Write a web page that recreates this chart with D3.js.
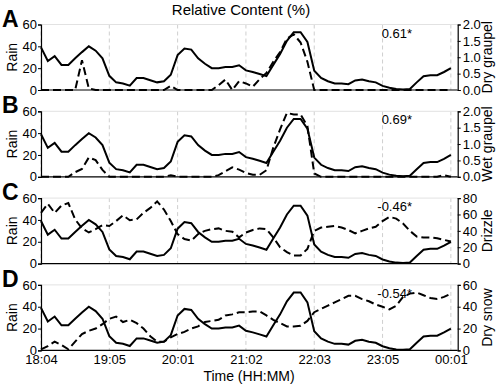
<!DOCTYPE html>
<html>
<head>
<meta charset="utf-8">
<script src="https://cdn.jsdelivr.net/npm/d3@7/dist/d3.min.js"></script>
<style>
  body { margin: 0; background: #fff; }
  svg text { font-family: "Liberation Sans", Arial, sans-serif; fill: #000; }
</style>
</head>
<body>
<div id="chart"></div>
<script>
// sample index 0..60, labelled every 10 samples
var tickIdx = [0, 10, 20, 30, 40, 50, 60];
var tickLabels = ["18:04", "19:05", "20:01", "21:02", "22:03", "23:05", "00:01"];

var rain = [39, 26.5, 31, 23, 23, 29, 34.7, 40, 36, 29,
    13, 7, 6, 4, 11, 11, 9, 7, 8, 14,
    32, 38, 37, 29, 24, 20, 20, 21, 21, 22.7,
    18, 16.5, 14.7, 12.7, 23, 33, 45, 53, 53, 44,
    17.6, 11, 8, 6, 6, 5.3, 8.8, 9.7, 8, 7,
    3.8, 2, 0.9, 0.5, 1, 7, 12.7, 13.5, 13.5, 16.5,
    20];

var dryGraupel = [0, 0, 0, 0, 0, 0, 0.91, 0.05, 0, 0,
    0, 0, 0, 0, 0, 0, 0, 0, 0, 0.13,
    0, 0, 0, 0, 0, 0, 0.15, 0.32, 0, 0.27,
    0.2, 0.1, 0.33, 0.52, 0.86, 1.16, 1.57, 1.7, 1.45, 0.86,
    0, 0, 0, 0, 0, 0, 0, 0, 0, 0,
    0, 0, 0, 0, 0, 0, 0, 0, 0, 0,
    0];

var wetGraupel = [0, 0, 0, 0, 0, 0.14, 0.24, 0.59, 0.51, 0.21,
    0, 0, 0, 0, 0, 0, 0, 0, 0, 0.05,
    0, 0, 0, 0, 0, 0, 0.05, 0.17, 0.29, 0.22,
    0.12, 0.06, 0.06, 0.2, 0.89, 1.45, 1.95, 1.9, 1.9, 1.55,
    0.1, 0, 0, 0, 0, 0, 0, 0, 0, 0,
    0, 0, 0, 0, 0, 0, 0, 0, 0, 0.05,
    0];

var drizzle = [62, 73, 62, 71, 74, 54, 43, 38, 42, 47,
    46, 52, 59, 53, 54, 62, 68, 76, 66, 52,
    36, 30, 28, 36, 40, 42, 43, 40, 39, 32,
    38, 41, 43, 42, 32, 20, 14, 10, 10, 18,
    40, 44, 45, 46, 44, 41, 37, 40, 43, 45,
    52, 57, 55, 49, 40, 33, 32, 32, 31, 29,
    27];

var drySnow = [1, 4, 8, 5, 1, 8, 15, 18, 20, 24,
    29, 31, 26, 28, 25, 20, 13, 8, 8, 12,
    15, 17, 20, 22, 26, 27, 28, 32, 33, 35,
    35, 35.7, 35.7, 32, 28, 25, 22, 22, 22.5, 27,
    35, 38, 41, 44, 47, 50, 50, 47, 45, 42,
    40, 37.5, 41, 49, 52, 53, 50.5, 48, 47, 49,
    52];

var panelLetters = ["A", "B", "C", "D"];
var rightNames = ["Dry graupel", "Wet graupel", "Drizzle", "Dry snow"];
var rightSeries = [dryGraupel, wetGraupel, drizzle, drySnow];
var rightMax = [2, 2, 80, 60];
var rightTicks = [[0, 0.5, 1, 1.5, 2], [0, 0.5, 1, 1.5, 2], [0, 20, 40, 60, 80], [0, 20, 40, 60]];
var corrText = ["0.61*", "0.69*", "-0.46*", "-0.54*"];
var rainTicks = [0, 20, 40, 60];

var W = 498, H = 385;
var left = 41, right = 457.7;
var panelTop = 24.5, panelStep = 86.8, panelH = 65.5;

var svg = d3.select("#chart").append("svg")
    .attr("width", W)
    .attr("height", H);

var x = d3.scaleLinear().domain([0, 61]).range([left, right]);

svg.append("text")
    .attr("x", 241)
    .attr("y", 15)
    .attr("text-anchor", "middle")
    .style("font-size", "15px")
    .text("Relative Content (%)");

panelLetters.forEach(function (letter, k) {
    var top = panelTop + k * panelStep;
    var bottom = top + panelH;
    var g = svg.append("g");

    var yL = d3.scaleLinear().domain([0, 60]).range([bottom, top]);
    var yR = d3.scaleLinear().domain([0, rightMax[k]]).range([bottom, top]);

    // grid
    g.selectAll(".grid")
        .data(tickIdx)
        .enter()
        .append("line")
        .attr("x1", function (d) { return x(d); })
        .attr("x2", function (d) { return x(d); })
        .attr("y1", top)
        .attr("y2", bottom)
        .attr("stroke", "#cfcfcf")
        .attr("stroke-width", 1)
        .attr("stroke-dasharray", "4,3");

    g.append("line")
        .attr("x1", left).attr("x2", right)
        .attr("y1", top).attr("y2", top)
        .attr("stroke", "#e2e2e2");

    g.append("line")
        .attr("x1", left).attr("x2", right)
        .attr("y1", bottom).attr("y2", bottom)
        .attr("stroke", "#000")
        .attr("stroke-width", 1.2);

    var axL = g.append("g")
        .attr("transform", "translate(" + left + ",0)")
        .call(d3.axisLeft(yL).tickValues(rainTicks).tickSize(3).tickPadding(1).tickFormat(d3.format("d")));
    var axR = g.append("g")
        .attr("transform", "translate(" + right + ",0)")
        .call(d3.axisRight(yR).tickValues(rightTicks[k]).tickSize(3).tickPadding(2)
            .tickFormat(rightMax[k] == 2 ? d3.format(".1f") : d3.format("d")));
    [axL, axR].forEach(function (ax) {
        ax.select(".domain").attr("stroke", "#000").attr("stroke-width", 1.2);
        ax.selectAll(".tick text").style("font-size", "13px").style("font-family", "Liberation Sans, Arial, sans-serif");
    });

    if (k == 3) {
        var axB = g.append("g")
            .attr("transform", "translate(0," + bottom + ")")
            .call(d3.axisBottom(x).tickValues(tickIdx).tickSize(0).tickPadding(4)
                .tickFormat(function (d, i) { return tickLabels[i]; }));
        axB.select(".domain").remove();
        axB.selectAll(".tick text").style("font-size", "13px").style("font-family", "Liberation Sans, Arial, sans-serif");
    }

    var lineL = d3.line()
        .x(function (d, i) { return x(i); })
        .y(function (d) { return yL(d); });
    var lineR = d3.line()
        .x(function (d, i) { return x(i); })
        .y(function (d) { return yR(d); });

    g.append("path")
        .datum(rightSeries[k])
        .attr("d", lineR)
        .attr("fill", "none")
        .attr("stroke", "#000")
        .attr("stroke-width", 2)
        .attr("stroke-dasharray", "8,4");

    g.append("path")
        .datum(rain)
        .attr("d", lineL)
        .attr("fill", "none")
        .attr("stroke", "#000")
        .attr("stroke-width", 2);

    g.append("text")
        .attr("x", 412)
        .attr("y", top + 13)
        .attr("text-anchor", "end")
        .style("font-size", "13px")
        .text(corrText[k]);

    g.append("text")
        .attr("x", 2)
        .attr("y", top + 2)
        .style("font-size", "23px")
        .style("font-weight", "bold")
        .text(letter);

    g.append("text")
        .attr("transform", "translate(17," + (top + panelH / 2) + ") rotate(-90)")
        .attr("text-anchor", "middle")
        .style("font-size", "14px")
        .text("Rain");

    g.append("text")
        .attr("transform", "translate(492," + (top + panelH / 2) + ") rotate(-90)")
        .attr("text-anchor", "middle")
        .style("font-size", "14px")
        .text(rightNames[k]);
});

svg.append("text")
    .attr("x", 249)
    .attr("y", 381)
    .attr("text-anchor", "middle")
    .style("font-size", "14px")
    .text("Time (HH:MM)");
</script>
</body>
</html>
